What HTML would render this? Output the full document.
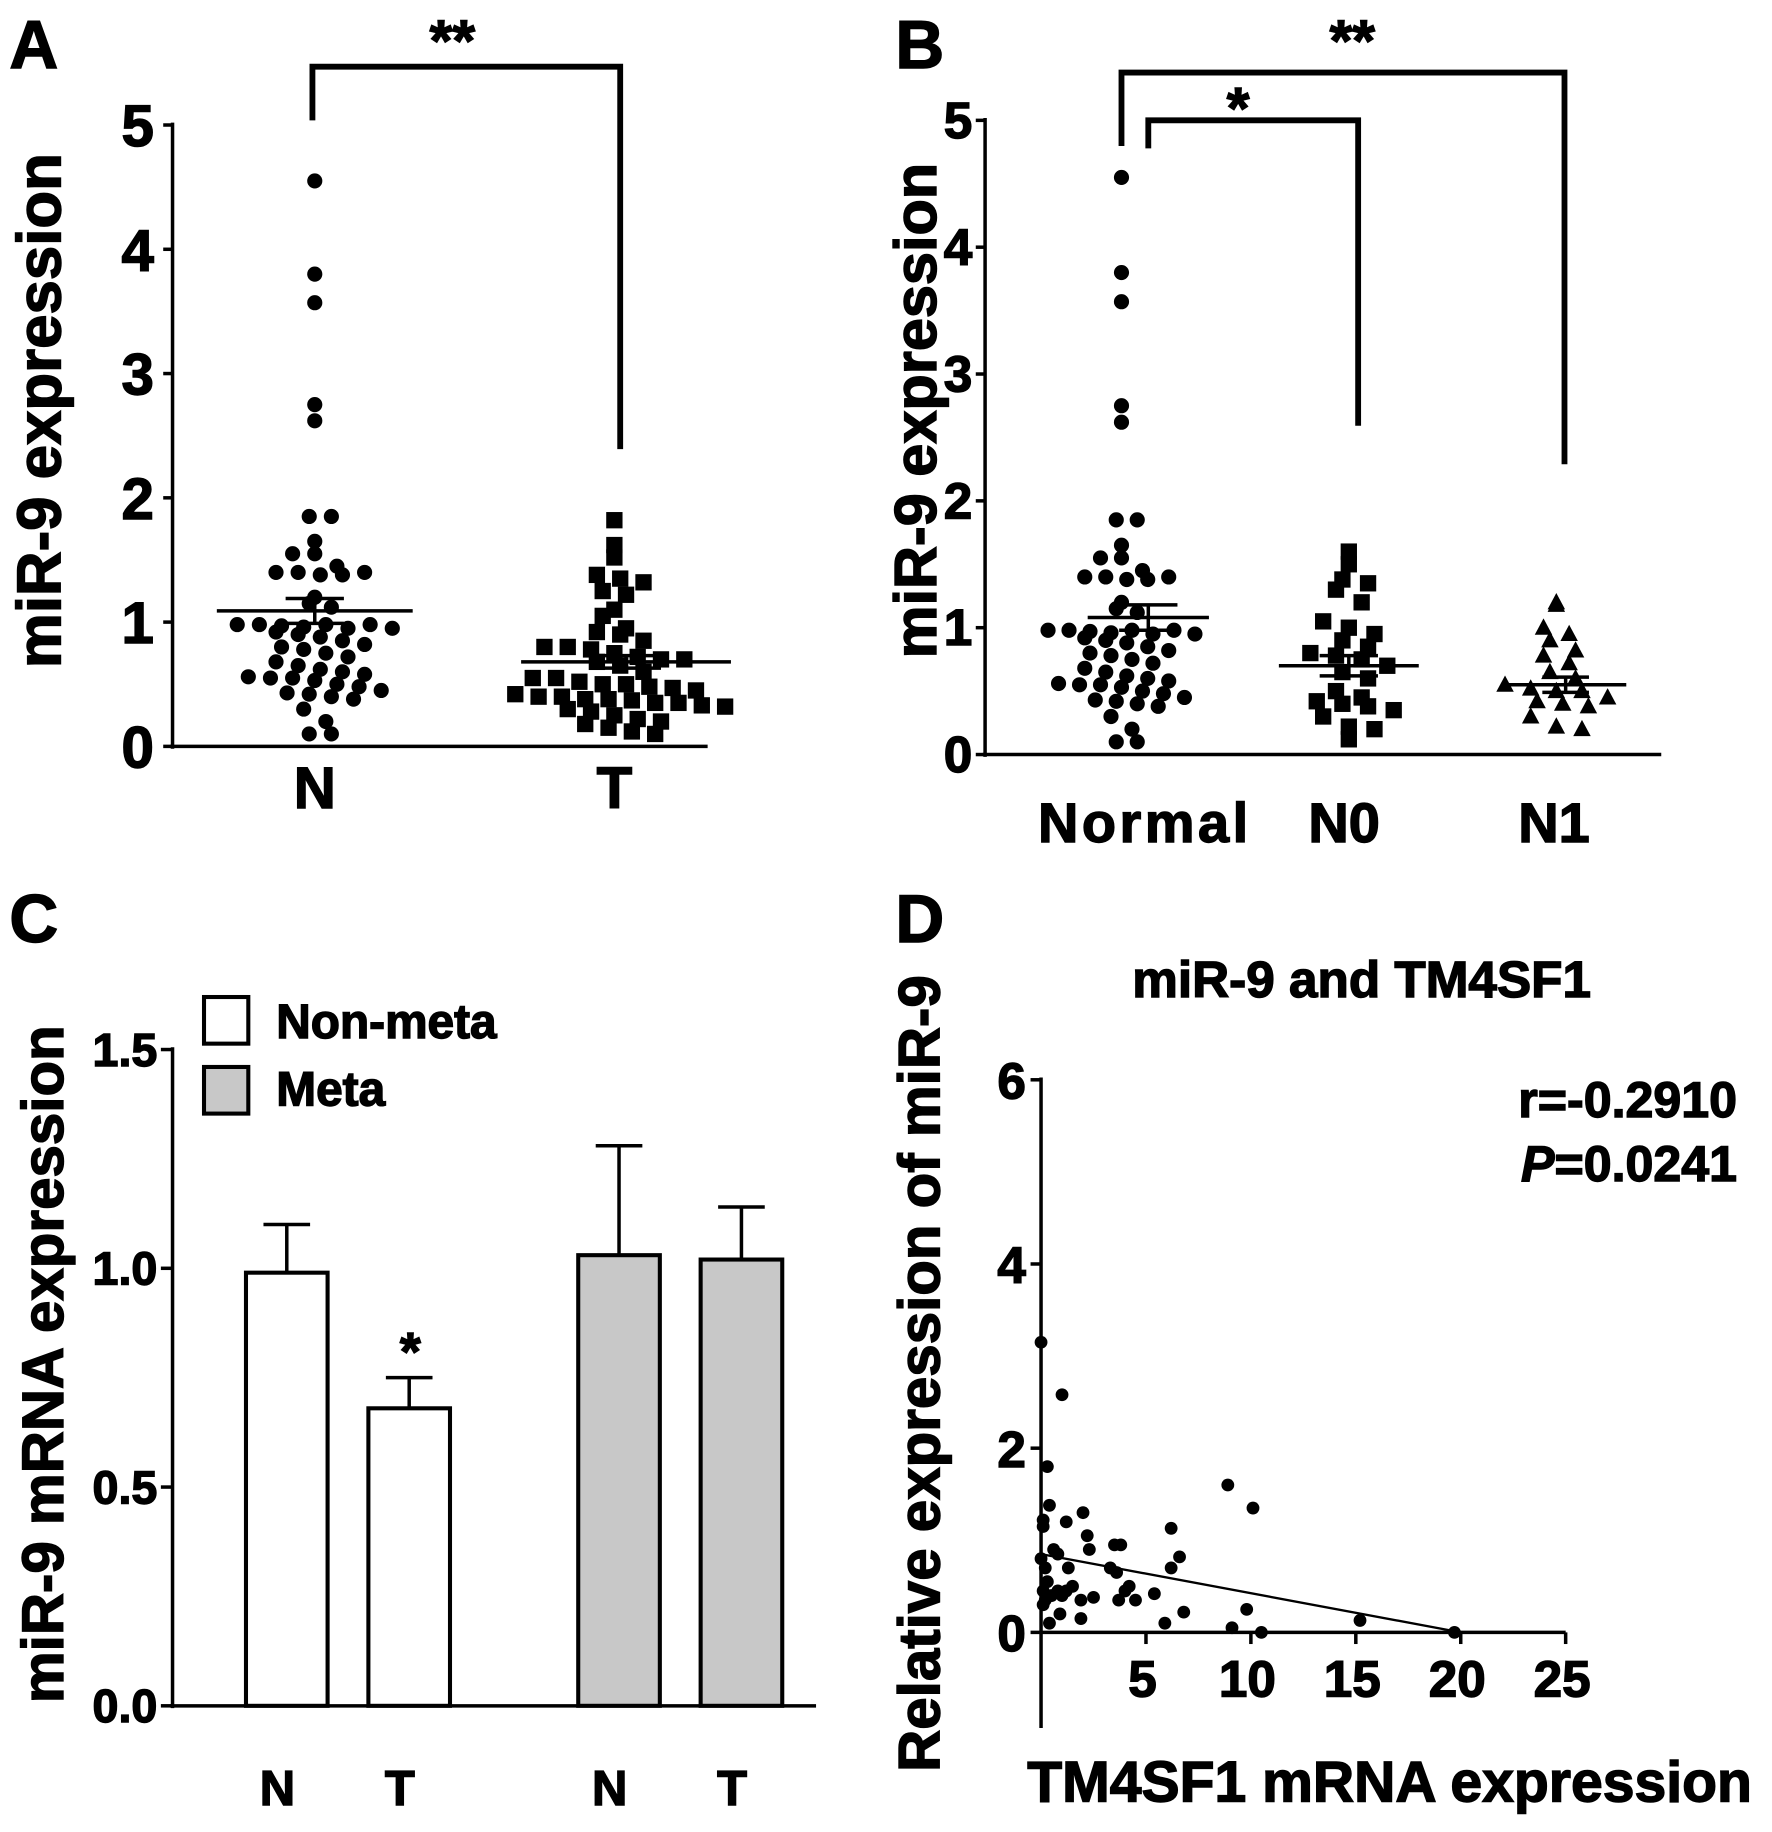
<!DOCTYPE html>
<html><head><meta charset="utf-8"><style>
html,body{margin:0;padding:0;background:#fff}
svg{display:block}
text{font-family:"Liberation Sans",Arial,sans-serif;font-weight:bold;fill:#000;stroke:#000;stroke-width:1.2}
</style></head><body>
<svg id="fig" width="1772" height="1832" viewBox="0 0 1520 1571" xmlns="http://www.w3.org/2000/svg">
<g id="pa"></g>
<g id="pb"></g>
<g id="pc"></g>
<g id="pd"></g>
</svg>
<script>
// ---- data ----
const normalVals = [4.55,3.8,3.57,2.75,2.62,1.85,1.85,1.65,1.55,1.55,1.45,1.4,1.4,1.38,1.38,1.4,1.2,1.15,1.12,0.98,0.98,0.97,0.96,0.98,0.95,0.98,0.95,0.92,0.9,0.88,0.85,0.82,0.8,0.78,0.75,0.72,0.68,0.65,0.62,0.6,0.58,0.56,0.55,0.55,0.53,0.5,0.48,0.45,0.43,0.42,0.4,0.38,0.3,0.2,0.1,0.1];
const tumorVals = [1.82,1.62,1.52,1.38,1.35,1.32,1.25,1.22,1.1,1.05,0.95,0.92,0.9,0.85,0.8,0.8,0.78,0.75,0.72,0.7,0.7,0.68,0.65,0.6,0.55,0.55,0.52,0.5,0.5,0.48,0.47,0.45,0.42,0.4,0.4,0.38,0.38,0.37,0.35,0.35,0.33,0.32,0.3,0.28,0.25,0.22,0.2,0.18,0.15,0.12,0.1];
const n0Vals = [1.6,1.5,1.38,1.35,1.3,1.2,1.05,1.0,0.95,0.9,0.85,0.8,0.78,0.75,0.7,0.65,0.6,0.5,0.45,0.42,0.4,0.38,0.35,0.3,0.22,0.2,0.12];
const n1Vals = [1.2,1.18,1.0,0.95,0.9,0.82,0.78,0.72,0.65,0.6,0.55,0.52,0.5,0.5,0.45,0.42,0.4,0.38,0.3,0.22,0.2];
const meanA = [1.09,0.68], semA = [0.1,0.05];
const meanB = [1.08,0.7,0.55], semB = [0.1,0.08,0.06];
const barCats = ["N","T","N","T"];
const barVals = [0.99,0.68,1.03,1.02];
const barErr = [1.10,0.75,1.28,1.14];
const barMeta = [false,false,true,true];
const scatX = [0,1,0.3,0.4,0.1,0.1,1.2,2,2.2,2.3,0.6,0.8,0,0.2,1.3,3.5,3.8,3.3,3.6,4,4.2,3.7,4.5,5.4,6.2,6.6,6.2,8.9,10.1,9.8,6.8,5.9,9.1,10.5,15.2,19.7,0.1,0.2,0.5,0.8,1.2,1.5,1.9,0.4,0.9,1.9,0.3,0.1,1,2.5];
const scatY = [3.15,2.58,1.8,1.38,1.22,1.15,1.2,1.3,1.05,0.9,0.9,0.85,0.8,0.7,0.7,0.95,0.95,0.7,0.65,0.45,0.5,0.35,0.35,0.42,1.13,0.82,0.7,1.6,1.35,0.25,0.22,0.1,0.05,0,0.13,0,0.45,0.35,0.4,0.45,0.45,0.5,0.35,0.1,0.2,0.15,0.55,0.3,0.4,0.38];
const fitLine = [0.85,-0.0425];

const NS="http://www.w3.org/2000/svg";
function mk(parent,tag,attrs,txt){const e=document.createElementNS(NS,tag);for(const k in attrs)e.setAttribute(k,attrs[k]);if(txt!==undefined)e.textContent=txt;parent.appendChild(e);return e;}
function line(p,x1,y1,x2,y2,w){return mk(p,'line',{x1,y1,x2,y2,stroke:'#000','stroke-width':w||4});}
function swarm(vals,cx,sp){
  const bins={};const out=[];
  vals.forEach(v=>{const b=Math.round(v*8);(bins[b]=bins[b]||[]).push(v);});
  Object.keys(bins).forEach(b=>{const arr=bins[b];const off=(b%2)?sp/2:0;arr.forEach((v,i)=>{out.push([cx+(i-(arr.length-1)/2)*sp+(arr.length>1?off*0.5:0),v]);});});
  return out;
}
function dotGroup(p,vals,cx,ys,shape,name,sp){
  swarm(vals,cx,sp||19).forEach(([x,v])=>{
    const y=ys(v);let e;
    if(shape==='c'){e=mk(p,'circle',{cx:x,cy:y,r:6.5,fill:'#000'});}
    else if(shape==='s'){e=mk(p,'rect',{x:x-7,y:y-7,width:14,height:14,fill:'#000'});}
    else {e=mk(p,'polygon',{points:`${x},${y-8} ${x-7.5},${y+6} ${x+7.5},${y+6}`,fill:'#000'});}
    
    
  });
}
function meanBar(p,cx,m,s,ys,half,capHalf){
  line(p,cx-half,ys(m),cx+half,ys(m),3);
  line(p,cx,ys(m-s),cx,ys(m+s),3);
  line(p,cx-capHalf,ys(m+s),cx+capHalf,ys(m+s),3);
  line(p,cx-capHalf,ys(m-s),cx+capHalf,ys(m-s),3);
}

// ---- Panel A ----
(function(){
 const g=document.getElementById('pa');
 const ys=v=>640-v*106.6;
 mk(g,'text',{x:8,y:58,'font-size':58},'A');
 mk(g,'text',{transform:'translate(52,352) rotate(-90)','text-anchor':'middle','font-size':53},'miR-9 expression');
 line(g,148,ys(5)-2,148,642,3);line(g,146,640,607,640,3);
 [0,1,2,3,4,5].forEach(t=>{line(g,140,ys(t),148,ys(t),3);mk(g,'text',{x:132,y:ys(t)+18,'text-anchor':'end','font-size':50},t);});
 const cats=[270,527];
 mk(g,'text',{x:270,y:693,'text-anchor':'middle','font-size':50},'N');
 mk(g,'text',{x:527,y:693,'text-anchor':'middle','font-size':50},'T');
 dotGroup(g,normalVals,cats[0],ys,'c','point-n',19);
 dotGroup(g,tumorVals,cats[1],ys,'s','point-t',20);
 meanBar(g,cats[0],meanA[0],semA[0],ys,84,25);
 meanBar(g,cats[1]+10,meanA[1],semA[1],ys,90,30);
 const b=mk(g,'path',{d:'M268 103 V57 H532 V385',fill:'none',stroke:'#000','stroke-width':5});
 
 mk(g,'text',{x:388,y:52,'text-anchor':'middle','font-size':50},'**');
})();

// ---- Panel B ----
(function(){
 const g=document.getElementById('pb');
 const ys=v=>647-v*108.8;
 mk(g,'text',{x:768,y:58,'font-size':58},'B');
 mk(g,'text',{transform:'translate(803,352) rotate(-90)','text-anchor':'middle','font-size':51},'miR-9 expression');
 line(g,845,ys(5)-2,845,649,3);line(g,843,647,1425,647,3);
 [0,1,2,3,4,5].forEach(t=>{line(g,837,ys(t),845,ys(t),3);mk(g,'text',{x:834,y:ys(t)+15,'text-anchor':'end','font-size':44},t);});
 mk(g,'text',{x:982,y:722,'text-anchor':'middle','font-size':48,'letter-spacing':3},'Normal');
 mk(g,'text',{x:1153,y:722,'text-anchor':'middle','font-size':48},'N0');
 mk(g,'text',{x:1333,y:722,'text-anchor':'middle','font-size':48},'N1');
 dotGroup(g,normalVals,962,ys,'c','point-normal',18);
 dotGroup(g,n0Vals,1157,ys,'s','point-n0',22);
 dotGroup(g,n1Vals,1335,ys,'t','point-n1',22);
 meanBar(g,985,meanB[0],semB[0],ys,52,25);
 meanBar(g,1157,meanB[1],semB[1],ys,60,25);
 meanBar(g,1343,meanB[2],semB[2],ys,52,20);
 mk(g,'path',{d:'M962 125 V62 H1342 V398',fill:'none',stroke:'#000','stroke-width':5});
 mk(g,'path',{d:'M985 127 V103 H1165 V365',fill:'none',stroke:'#000','stroke-width':5});
 mk(g,'text',{x:1160,y:52,'text-anchor':'middle','font-size':50},'**');
 mk(g,'text',{x:1062,y:110,'text-anchor':'middle','font-size':50},'*');
})();

// ---- Panel C ----
(function(){
 const g=document.getElementById('pc');
 const ys=v=>1463-v*375.3;
 mk(g,'text',{x:8,y:808,'font-size':58},'C');
 mk(g,'text',{transform:'translate(54,1170) rotate(-90)','text-anchor':'middle','font-size':50},'miR-9 mRNA expression');
 line(g,148,ys(1.5)-2,148,1465,3);line(g,146,1463,700,1463,3);
 ['0.0','0.5','1.0','1.5'].forEach(t=>{const v=+t;line(g,138,ys(v),148,ys(v),3);mk(g,'text',{x:135,y:ys(v)+14,'text-anchor':'end','font-size':40},t);});
 const xs=[246,351,531,636];
 barVals.forEach((v,i)=>{
   line(g,xs[i],ys(v),xs[i],ys(barErr[i]),3);
   line(g,xs[i]-20,ys(barErr[i]),xs[i]+20,ys(barErr[i]),3);
   const r=mk(g,'rect',{x:xs[i]-35,y:ys(v),width:70,height:1463-ys(v),fill:barMeta[i]?'#c8c8c8':'#fff',stroke:'#000','stroke-width':3.5});
   
   
   mk(g,'text',{x:xs[i]-8,y:1548,'text-anchor':'middle','font-size':42},barCats[i]);
 });
 mk(g,'text',{x:352,y:1175,'text-anchor':'middle','font-size':46},'*');
 mk(g,'rect',{x:175,y:855,width:38,height:40,fill:'#fff',stroke:'#000','stroke-width':3.5});
 mk(g,'rect',{x:175,y:915,width:38,height:40,fill:'#c8c8c8',stroke:'#000','stroke-width':3.5});
 mk(g,'text',{x:237,y:890,'font-size':41},'Non-meta');
 mk(g,'text',{x:237,y:948,'font-size':41},'Meta');
})();

// ---- Panel D ----
(function(){
 const g=document.getElementById('pd');
 const ys=v=>1400-v*79;
 const xs=v=>893+v*18;
 mk(g,'text',{x:768,y:808,'font-size':58},'D');
 mk(g,'text',{x:1168,y:855,'text-anchor':'middle','font-size':44},'miR-9 and TM4SF1');
 mk(g,'text',{transform:'translate(806,1178) rotate(-90)','text-anchor':'middle','font-size':50},'Relative expression of miR-9');
 mk(g,'text',{x:1192,y:1545,'text-anchor':'middle','font-size':49},'TM4SF1 mRNA expression');
 line(g,893,ys(6)-2,893,1482,3);line(g,893,1400,1343,1400,3);
 [0,2,4,6].forEach(t=>{line(g,884,ys(t),893,ys(t),3);mk(g,'text',{x:880,y:ys(t)+16,'text-anchor':'end','font-size':44},t);});
 [5,10,15,20,25].forEach(t=>{line(g,xs(t),1400,xs(t),1410,3);mk(g,'text',{x:xs(t)-3,y:1455,'text-anchor':'middle','font-size':44},t);});
 mk(g,'text',{x:1490,y:958,'text-anchor':'end','font-size':43},'r=-0.2910');
 const p=mk(g,'text',{x:1490,y:1013,'text-anchor':'end','font-size':43});
 mk(p,'tspan',{'font-style':'italic'},'P');mk(p,'tspan',{},'=0.0241');
 const fl=line(g,xs(0),ys(fitLine[0]),xs(20),ys(fitLine[0]+fitLine[1]*20),2);
 
 scatX.forEach((x,i)=>{
   const c=mk(g,'circle',{cx:xs(x),cy:ys(scatY[i]),r:5.5,fill:'#000'});
   
   
 });
})();
</script>
</body></html>
